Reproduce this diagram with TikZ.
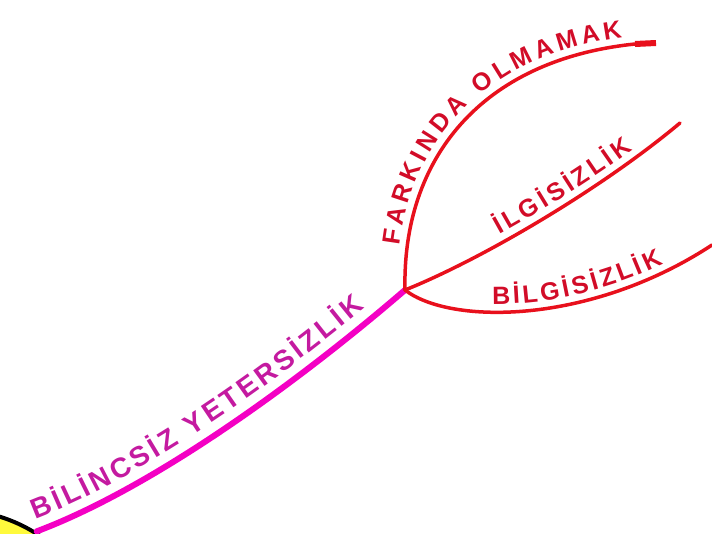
\documentclass[tikz,border=0pt]{standalone}
\usepackage{fontspec}
\newfontfamily\branchfont{Liberation Sans}
\usetikzlibrary{decorations.text}

\definecolor{branchred}{RGB}{232,16,28}
\definecolor{labelred}{RGB}{210,12,40}
\definecolor{branchpink}{RGB}{244,0,196}
\definecolor{labelpink}{RGB}{196,26,160}
\definecolor{rootyellow}{RGB}{255,250,60}

\tikzset{
    redbranch/.style={draw=branchred, line width=3.5pt, line cap=round},
    pinkbranch/.style={draw=branchpink, line width=6pt, line cap=round},
    redlabel/.style 2 args={postaction={decorate, decoration={text along path, raise=8pt,
        text align={left indent=#2},
        text={|\branchfont\bfseries\fontsize{25}{25}\selectfont\color{labelred}\kern3.5pt|#1}}}},
    pinklabel/.style 2 args={postaction={decorate, decoration={text along path, raise=12pt,
        text align={left indent=#2},
        text={|\branchfont\bfseries\fontsize{28}{28}\selectfont\color{labelpink}\kern3.5pt|#1}}}},
}

\begin{document}
\begin{tikzpicture}[x=1pt, y=-1pt]
    \useasboundingbox (0,0) rectangle (712,533);
    \clip (0,0) rectangle (712,533);

    % root, only its rim is in view
    \node[circle, draw=black, line width=4pt, fill=rootyellow, minimum size=304pt, inner sep=0pt] (root) at (-45,662) {};

    \coordinate (hub) at (405,290);
    \coordinate (fark) at (635,44);
    \coordinate (farktip) at (656,43);
    \coordinate (ilgi) at (680,123);
    \coordinate (bilgi) at (712,245);

    % main branch
    \draw[pinkbranch, pinklabel={BİLİNCSİZ YETERSİZLİK}{0pt}] (root.58) .. controls (160,485) and (310,372) .. (hub);

    % sub branches
    \draw[redbranch, redlabel={FARKINDA OLMAMAK}{40pt}] (hub) .. controls (402,160) and (480,60) .. (fark);
    \draw[redbranch, line width=6pt, line cap=butt] (fark) -- (farktip);
    \draw[redbranch, redlabel={İLGİSİZLİK}{106pt}] (hub) .. controls (480,260) and (600,190) .. (ilgi);
    \draw[redbranch, redlabel={BİLGİSİZLİK}{88pt}] (hub) .. controls (450,325) and (590,325) .. (bilgi);
\end{tikzpicture}
\end{document}
